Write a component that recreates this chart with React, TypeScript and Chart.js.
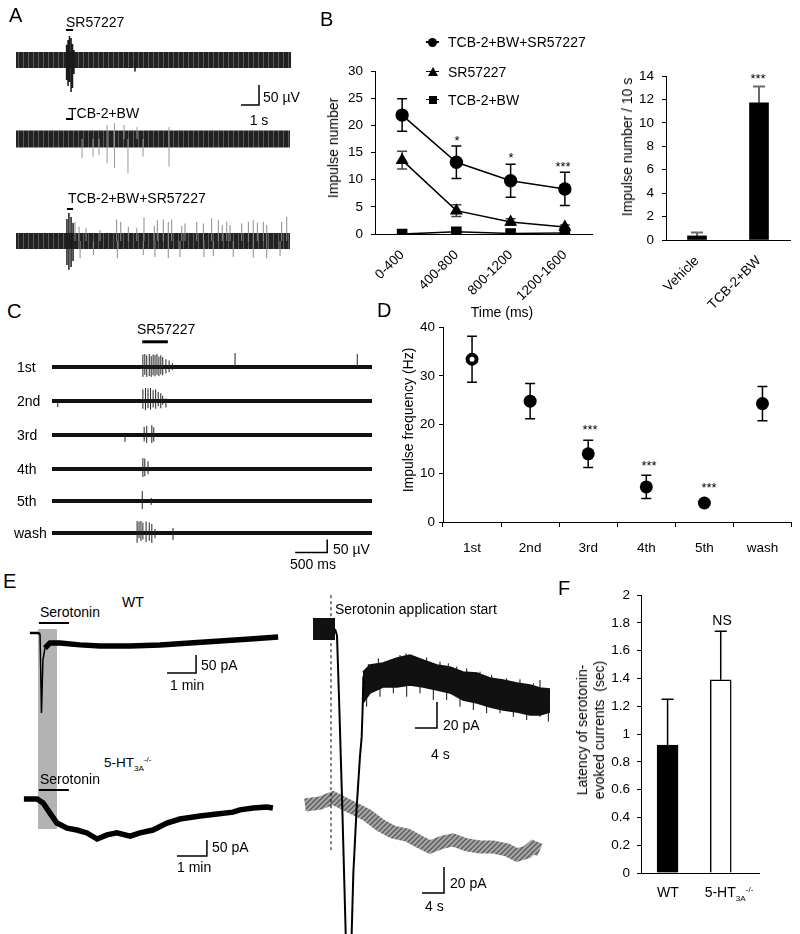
import React, { useEffect, useRef } from 'react';
import { Chart, registerables } from 'chart.js';

Chart.register(...registerables);

const FONT = '"Liberation Sans", Arial, Helvetica, sans-serif';
Chart.defaults.font.family = FONT;
Chart.defaults.color = '#000';

// ======================= DATA =======================
// ---- Panel A : extracellular traces (time in s, voltage in µV) ----
const aTraceSpan = [0, 15.28];
const a1Burst = [[2.81, -50, 38], [2.89, -65, 50], [2.97, -55, 60], [3.06, -80, 55], [3.14, -70, 40], [3.22, -35, 25], [6.61, -29, 0]];
const a2Spikes = [[3.67, -48, 0], [4.28, -44, 0], [4.61, -40, 0], [5.06, -61, 35], [5.47, -73, 40], [6.0, 0, 35], [6.22, -86, 0], [6.72, 0, 30], [7.06, -44, 0], [8.5, -69, 30]];
const a3Burst = [[2.83, -60, 55], [2.94, -72, 70], [3.06, -65, 60], [3.17, -50, 45]];
const a3Spikes = [
  [3.28, 0, 48], [3.5, 0, 36], [3.56, -43, 0], [3.89, 0, 32], [4.3, -35, 0], [4.67, 0, 27.5], [5.59, 0, 54], [5.63, -43, 0],
  [5.82, 0, 48], [6.24, 0, 36], [6.71, 0, 32], [7.07, -35, 0], [7.11, 0, 59], [7.68, 0, 37.5], [7.72, -40, 0], [7.85, 0, 52],
  [8.18, 0, 54], [8.46, -43, 48], [8.65, 0, 54], [9.11, -40, 0], [9.21, 0, 37.5], [9.39, 0, 44], [10.04, 0, 48], [10.41, 0, 44],
  [10.44, -40, 0], [10.87, 0, 57], [10.96, -38, 0], [11.24, 0, 52], [11.46, 0, 40], [11.71, 0, 48], [11.89, 0, 40], [12.07, -40, 0],
  [12.54, 0, 44], [12.91, 0, 48], [13.18, -42, 52], [13.41, 0, 46], [13.74, 0, 48], [13.93, -43, 40], [14.67, -38, 0], [14.76, 0, 48],
  [15.04, 0, 61],
];
const a1Application = [[2.78, 75], [3.17, 75]];
const a2Application = [[2.78, 50], [3.17, 50]];
const a3Application = [[2.83, 80], [3.17, 80]];
const aScaleBar = [[12.5, -112.5], [13.5, -112.5], [13.5, -62.5]]; // 1 s, 50 µV

// ---- Panel B : impulse number per 400 ms bin ----
const bBins = ['0-400', '400-800', '800-1200', '1200-1600'];
const bComboMean = [21.9, 13.2, 9.8, 8.3];
const bComboSem = [3.0, 3.0, 3.05, 3.05];
const bSrMean = [13.6, 4.3, 2.2, 1.3];
const bSrSem = [1.65, 1.1, 0.6, 0.35];
const bTcbMean = [0, 0.4, 0.1, 0.2];
const bTcbSem = [0, 0, 0, 0];
const bGroups = ['Vehicle', 'TCB-2+BW'];
const bPer10s = [0.35, 11.7];
const bPer10sSem = [0.3, 1.4];

// ---- Panel C : repeated SR57227 applications (time in s, µV) ----
const cTraceSpan = [0, 5];
const cApplication = [[1.41, 97], [1.81, 97]];
const c1stSpikes = [[1.42, -38, 48], [1.45, -30, 50], [1.48, -38, 45], [1.52, -35, 50], [1.55, -38, 42], [1.58, -32, 48], [1.61, -36, 46], [1.64, -30, 50], [1.67, -35, 40], [1.7, -28, 45], [1.73, -32, 38], [1.78, -25, 30], [1.83, -20, 25], [1.88, -12, 15], [2.86, 0, 54], [4.77, 0, 50]];
const c2ndSpikes = [[0.09, -23, 0], [1.42, -30, 45], [1.46, -35, 50], [1.5, -28, 48], [1.54, -33, 50], [1.58, -25, 42], [1.62, -30, 45], [1.66, -20, 35], [1.7, -28, 30], [1.73, -15, 20], [1.78, -25, 10]];
const c3rdSpikes = [[1.14, -27, 0], [1.44, -25, 31], [1.48, -31, 35], [1.56, -31, 38], [1.59, -25, 30]];
const c4thSpikes = [[1.42, -31, 42], [1.45, -28, 40], [1.5, -20, 30]];
const c5thSpikes = [[1.41, -31, 38], [1.55, -15, 12]];
const cWashSpikes = [[1.33, -38, 46], [1.36, -20, 44], [1.39, -30, 46], [1.42, -25, 40], [1.47, -35, 44], [1.52, -30, 40], [1.56, -38, 35], [1.61, -20, 15], [1.89, -27, 19]];
const cScaleBar = [[3.8, -75], [4.3, -75], [4.3, -25]]; // 500 ms, 50 µV

// ---- Panel D : impulse frequency per application ----
const dTrials = ['1st', '2nd', '3rd', '4th', '5th', 'wash'];
const dFreq = [33.4, 24.8, 14.0, 7.2, 3.9, 24.3];
const dFreqSem = [4.7, 3.6, 2.8, 2.4, 0, 3.5];

// ---- Panel E left : whole-cell currents (time in min, current in pA) ----
const wtBaseline = [[-0.28, 0], [0, 0], [0.07, -3]];
const wtTransient = [[0.07, -3], [0.12, -222], [0.17, -75], [0.24, -42]];
const wtSustained = [[0.24, -42], [0.41, -28], [0.76, -28], [1.45, -33], [2.14, -36], [3.17, -36], [4.21, -33], [5.24, -28], [6.28, -22], [7.31, -17], [8.28, -11]];
const wtApplication = [[0.03, 27.8], [1.07, 27.8]];
const wtScaleBar = [[4.45, -111], [5.45, -111], [5.45, -61]]; // 1 min, 50 pA
const koTrace = [[-0.47, 0], [-0.03, 0], [0.17, -12.5], [0.4, -44], [0.63, -75], [0.97, -91], [1.3, -97], [1.63, -106], [1.97, -125], [2.3, -112], [2.63, -106], [3.07, -116], [3.4, -106], [3.83, -97], [4.3, -75], [4.73, -62.5], [5.4, -53], [5.97, -47], [6.5, -41], [6.73, -34], [7.17, -28], [7.63, -25], [7.83, -28]];
const koApplication = [[0.03, 28.1], [1.03, 28.1]];
const koScaleBar = [[4.63, -178], [5.63, -178], [5.63, -128]]; // 1 min, 50 pA

// ---- Panel E right : expanded time (time in s, current in pA) ----
const wtFastPre = [[-3.27, 0], [0.73, 0]];
const wtFastTransient = [[0.73, 0], [1.09, -5], [1.51, -60], [2.05, -137], [2.67, -234], [3.2, -316], [3.76, -234], [4.06, -188], [4.67, -137], [5.27, -98], [5.58, -83], [5.76, -60], [5.87, -39], [6.2, -42]];
const wtFastUpper = [[5.82, -33.1], [7.09, -27.7], [9.45, -26.2], [12.0, -22.3], [14.36, -20], [16.73, -23.8], [19.27, -27.7], [21.64, -29.2], [24.0, -33.1], [26.55, -33.8], [28.91, -37.7], [31.27, -39.2], [33.82, -41.5], [36.18, -43.1], [38.0, -45.4], [39.82, -46.2]];
const wtFastLower = [[5.82, -56.9], [7.09, -49.2], [9.45, -44.6], [12.0, -44.6], [14.36, -43.1], [16.73, -44.6], [19.27, -46.9], [21.64, -49.2], [24.0, -54.6], [26.55, -56.9], [28.91, -60], [31.27, -62.3], [33.82, -63.8], [36.18, -66.2], [38.0, -66.2], [39.82, -63.8]];
const wtFastNoise = [
  [6.79, -32, -26.9], [8.61, -30, -22.6], [10.61, -30, -23.8], [12.55, -26, -20], [13.64, -25, -18.7], [15.27, -26, -21.3], [17.39, -27, -21.8],
  [19.82, -30, -25.1], [21.33, -31, -26.4], [22.85, -34, -29], [24.67, -36, -30.3], [27.09, -38, -32.8], [29.21, -41, -35.4], [31.94, -43, -37.9],
  [34.36, -45, -38.7], [36.79, -47, -41.8], [38.0, -48, -39.2],
  [6.48, -59.8, -50], [8.91, -52.1, -44], [11.33, -49.5, -42], [13.76, -52.1, -42], [16.18, -49.5, -43], [18.6, -54.6, -45], [21.03, -54.6, -48],
  [23.45, -59.8, -52], [25.88, -62.3, -55], [28.3, -64.8, -58], [30.73, -64.8, -60], [33.15, -67.5, -62], [35.58, -70, -64], [38.0, -67.5, -64], [39.52, -71.3, -62],
];
const applicationStart = [[0, 26], [0, -170]];
const wtFastScaleBar = [[15.27, -76.2], [19.27, -76.2], [19.27, -56.2]]; // 4 s, 20 pA
const koFastTrace = [[-4.73, 0], [-2.0, 1.5], [0.36, 5.4], [2.18, 1.5], [4.0, -2.3], [6.55, -7.7], [8.91, -15.4], [11.27, -20.8], [13.82, -23.1], [16.18, -28.5], [18.0, -32.3], [20.36, -28.5], [22.18, -26.9], [24.73, -30.8], [27.09, -32.3], [29.45, -32.3], [32.0, -34.6], [33.82, -38.5], [35.64, -36.2], [36.73, -32.3], [38.0, -34.6]];
const koFastScaleBar = [[16.55, -67.7], [20.55, -67.7], [20.55, -47.7]]; // 4 s, 20 pA

// ---- Panel F : latency ----
const fGenotypes = ['WT', '5-HT3A-/-'];
const fLatency = [0.92, 1.39];
const fLatencySem = [0.33, 0.35];

// ======================= HELPERS =======================
type P = { x: number; y: number | null };
const pts = (a: number[][]): P[] => a.map(([x, y]) => ({ x, y }));
const spikes = (a: number[][]): P[] =>
  a.flatMap(([t, lo, hi]) => [{ x: t, y: lo }, { x: t, y: hi }, { x: t, y: null }]);

type Ln = { pts: P[]; color: any; width: number; dash?: number[]; fill?: any; bg?: any };

const baseOpts = {
  responsive: false,
  animation: false as const,
  devicePixelRatio: 1,
  events: [] as any[],
  plugins: { legend: { display: false }, tooltip: { enabled: false } },
};

function traceConfig(w: number, h: number, x0: number, pxX: number, y0: number, pxY: number, lines: Ln[]) {
  return {
    type: 'line',
    data: {
      datasets: lines.map((l, i) => ({
        data: l.pts,
        borderColor: l.color,
        borderWidth: l.width,
        borderDash: l.dash || [],
        fill: l.fill ?? false,
        backgroundColor: l.bg ?? 'rgba(0,0,0,0)',
        pointRadius: 0,
        tension: 0,
        spanGaps: false,
        borderCapStyle: 'butt',
        order: -i,
      })),
    },
    options: {
      ...baseOpts,
      layout: { padding: 0 },
      scales: {
        x: { type: 'linear', display: false, min: -x0 / pxX, max: (w - x0) / pxX },
        y: { type: 'linear', display: false, min: -(h - y0) / pxY, max: y0 / pxY },
      },
    },
  };
}

const errorBarPlugin = {
  id: 'errorBars',
  beforeDatasetsDraw(chart: any) {
    const { ctx } = chart;
    chart.data.datasets.forEach((ds: any, i: number) => {
      const eb = ds.errorBars;
      if (!eb) return;
      const meta = chart.getDatasetMeta(i);
      const ys = chart.scales[meta.yAxisID];
      ctx.save();
      ctx.strokeStyle = eb.color;
      ctx.lineWidth = eb.width;
      meta.data.forEach((el: any, j: number) => {
        const e = eb.values[j];
        if (!e) return;
        const raw = ds.data[j];
        const v = typeof raw === 'number' ? raw : raw.y;
        const x = el.x;
        const yTop = ys.getPixelForValue(v + e);
        const yBot = ys.getPixelForValue(eb.upOnly ? v : v - e);
        ctx.beginPath();
        ctx.moveTo(x, yTop);
        ctx.lineTo(x, yBot);
        ctx.moveTo(x - eb.cap, yTop);
        ctx.lineTo(x + eb.cap, yTop);
        if (!eb.upOnly) {
          ctx.moveTo(x - eb.cap, yBot);
          ctx.lineTo(x + eb.cap, yBot);
        }
        ctx.stroke();
      });
      ctx.restore();
    });
  },
};

function hatch(): any {
  const c = document.createElement('canvas');
  c.width = 5;
  c.height = 5;
  const g = c.getContext('2d');
  if (!g) return '#8c8c8c';
  g.fillStyle = '#a8a8a8';
  g.fillRect(0, 0, 5, 5);
  g.strokeStyle = '#5e5e5e';
  g.lineWidth = 1.5;
  g.beginPath();
  g.moveTo(-1, 6); g.lineTo(6, -1);
  g.moveTo(-1, 1); g.lineTo(1, -1);
  g.moveTo(4, 6); g.lineTo(6, 4);
  g.stroke();
  return g.createPattern(c, 'repeat') || '#8c8c8c';
}

// texture of the dense spontaneous firing band in panel A (vertical striations)
function stripes(): any {
  const c = document.createElement('canvas');
  c.width = 5;
  c.height = 4;
  const g = c.getContext('2d');
  if (!g) return '#262626';
  g.fillStyle = '#222';
  g.fillRect(0, 0, 5, 4);
  g.fillStyle = '#5a5a5a';
  g.fillRect(2, 0, 1, 4);
  return g.createPattern(c, 'repeat') || '#262626';
}

const tickFont = { size: 13.5, family: FONT };
const axisBorder = { display: true, color: '#000', width: 1 };
const yGrid = { display: true, drawOnChartArea: false, drawTicks: true, tickLength: 4, color: '#000' };

// ======================= CHART CONFIGS =======================
function bLineConfig() {
  const common = { borderColor: '#000', borderWidth: 1.5, pointBackgroundColor: '#000', pointBorderColor: '#000', pointBorderWidth: 0 };
  return {
    type: 'line',
    data: {
      labels: bBins,
      datasets: [
        { ...common, label: 'TCB-2+BW+SR57227', data: bComboMean, pointStyle: 'circle', pointRadius: 6.7, errorBars: { values: bComboSem, color: '#000', width: 1.5, cap: 5 } },
        { ...common, label: 'SR57227', data: bSrMean, pointStyle: 'triangle', pointRadius: 7.5, errorBars: { values: bSrSem, color: '#444', width: 1.5, cap: 5 } },
        { ...common, label: 'TCB-2+BW', data: bTcbMean, pointStyle: 'rect', pointRadius: 7.5, errorBars: { values: bTcbSem, color: '#444', width: 1.5, cap: 5 } },
      ],
    },
    options: {
      ...baseOpts,
      layout: { padding: { left: 0, right: 8, top: 12, bottom: 0 } },
      scales: {
        x: {
          offset: true, grid: { display: false }, border: axisBorder,
          ticks: { font: tickFont, color: '#000', minRotation: 45, maxRotation: 45, autoSkip: false, padding: 5 },
          afterFit: (s: any) => { s.height = 66; },
        },
        y: {
          min: 0, max: 30, border: axisBorder, grid: yGrid,
          ticks: { font: tickFont, color: '#000', stepSize: 5, padding: 8 },
          afterFit: (s: any) => { s.width = 75; },
        },
      },
    },
    plugins: [errorBarPlugin],
  };
}

function bBarConfig() {
  return {
    type: 'bar',
    data: {
      labels: bGroups,
      datasets: [{ data: bPer10s, backgroundColor: '#000', barThickness: 19, errorBars: { values: bPer10sSem, color: '#6a6a6a', width: 2, cap: 6, upOnly: true } }],
    },
    options: {
      ...baseOpts,
      layout: { padding: { left: 0, right: 10, top: 21, bottom: 0 } },
      scales: {
        x: {
          grid: { display: false }, border: axisBorder,
          ticks: { font: tickFont, color: '#000', minRotation: 45, maxRotation: 45, autoSkip: false, padding: 5 },
          afterFit: (s: any) => { s.height = 78; },
        },
        y: {
          min: 0, max: 14, border: axisBorder, grid: yGrid,
          ticks: { font: tickFont, color: '#000', stepSize: 2, padding: 8 },
          afterFit: (s: any) => { s.width = 66; },
        },
      },
    },
    plugins: [errorBarPlugin],
  };
}

function dConfig() {
  return {
    type: 'line',
    data: {
      labels: dTrials,
      datasets: [{
        data: dFreq, showLine: false, pointStyle: 'circle',
        pointRadius: dFreq.map((_, i) => (i === 0 ? 4.5 : 6.5)),
        pointBorderWidth: dFreq.map((_, i) => (i === 0 ? 4 : 0)),
        pointBackgroundColor: dFreq.map((_, i) => (i === 0 ? '#fff' : '#000')),
        pointBorderColor: '#000',
        errorBars: { values: dFreqSem, color: '#000', width: 1.5, cap: 5 },
      }],
    },
    options: {
      ...baseOpts,
      layout: { padding: { left: 0, right: 8, top: 12, bottom: 0 } },
      scales: {
        x: {
          offset: true, border: axisBorder,
          grid: { display: true, offset: true, drawOnChartArea: false, drawTicks: true, tickLength: 5, color: '#000' },
          ticks: { font: tickFont, color: '#000', maxRotation: 0, autoSkip: false, padding: 13 },
          afterFit: (s: any) => { s.height = 38; },
        },
        y: {
          min: 0, max: 40, border: axisBorder, grid: yGrid,
          ticks: { font: tickFont, color: '#000', stepSize: 10, padding: 4 },
          afterFit: (s: any) => { s.width = 63; },
        },
      },
    },
    plugins: [errorBarPlugin],
  };
}

function fConfig() {
  return {
    type: 'bar',
    data: {
      datasets: [{
        data: fLatency.map((v, i) => ({ x: i, y: v })),
        backgroundColor: ['#000', '#fff'], borderColor: '#000', borderWidth: 1.5, barThickness: 21,
        errorBars: { values: fLatencySem, color: '#000', width: 1.5, cap: 6, upOnly: true },
      }],
    },
    options: {
      ...baseOpts,
      layout: { padding: { left: 0, right: 41, top: 14, bottom: 0 } },
      scales: {
        x: {
          type: 'linear', min: -0.5, max: 1.72, offset: false, border: axisBorder,
          grid: { display: false }, ticks: { display: false },
          afterFit: (s: any) => { s.height = 27; },
        },
        y: {
          min: 0, max: 2, border: axisBorder, grid: yGrid,
          ticks: { font: tickFont, color: '#000', stepSize: 0.2, padding: 7, callback: (v: any) => String(Math.round(Number(v) * 10) / 10) },
          afterFit: (s: any) => { s.width = 56; },
        },
      },
    },
    plugins: [errorBarPlugin],
  };
}

// ======================= COMPONENTS =======================
function ChartCanvas({ left, top, width, height, make }: { left: number; top: number; width: number; height: number; make: () => any }) {
  const ref = useRef<HTMLCanvasElement>(null);
  useEffect(() => {
    if (!ref.current) return;
    const chart = new Chart(ref.current, make());
    return () => chart.destroy();
  }, []);
  return <canvas ref={ref} width={width} height={height} style={{ position: 'absolute', left, top, width, height }} />;
}

function Trace({ left, top, width, height, x0, pxX, y0, pxY, lines }: { left: number; top: number; width: number; height: number; x0: number; pxX: number; y0: number; pxY: number; lines: () => Ln[] }) {
  return <ChartCanvas left={left} top={top} width={width} height={height} make={() => traceConfig(width, height, x0, pxX, y0, pxY, lines())} />;
}

function T({ x, y, children, size = 14, align = 'left', rotate = false, style = {} }: any) {
  const tx = align === 'left' ? '0' : align === 'center' ? '-50%' : '-100%';
  return (
    <div style={{
      position: 'absolute', left: x, top: y, transform: `translate(${rotate ? '-50%' : tx}, -50%)${rotate ? ' rotate(-90deg)' : ''}`,
      fontSize: size, lineHeight: 1, whiteSpace: 'nowrap', fontFamily: FONT, color: '#000', ...style,
    }}>{children}</div>
  );
}

const KO = ({ size = 13.5 }: { size?: number }) => (
  <span>5-HT<span style={{ fontSize: size * 0.6, position: 'relative', top: size * 0.3 }}>3A</span><span style={{ fontSize: size * 0.6, position: 'relative', top: -size * 0.38 }}>-/-</span></span>
);

const black = '#000';
const cRows = [
  { label: dTrials[0], center: 367, top: 335, h: 49, spikes: c1stSpikes },
  { label: dTrials[1], center: 401, top: 384, h: 34, spikes: c2ndSpikes },
  { label: dTrials[2], center: 435, top: 418, h: 34, spikes: c3rdSpikes },
  { label: dTrials[3], center: 469, top: 452, h: 34, spikes: c4thSpikes },
  { label: dTrials[4], center: 501, top: 484, h: 32, spikes: c5thSpikes },
  { label: dTrials[5], center: 533, top: 516, h: 44, spikes: cWashSpikes },
];

function LegendItem({ y, kind, text }: { y: number; kind: string; text: string }) {
  let marker: any = null;
  if (kind === 'circle') marker = <div style={{ position: 'absolute', left: 428, top: y - 4.5, width: 9, height: 9, borderRadius: '50%', background: black }} />;
  if (kind === 'tri') marker = <div style={{ position: 'absolute', left: 427.5, top: y - 5, width: 0, height: 0, borderLeft: '5px solid transparent', borderRight: '5px solid transparent', borderBottom: '9px solid #000' }} />;
  if (kind === 'rect') marker = <div style={{ position: 'absolute', left: 428.5, top: y - 4, width: 8, height: 8, background: black }} />;
  return (
    <>
      <div style={{ position: 'absolute', left: 426, top: y - 0.75, width: 13, height: 1.5, background: black }} />
      {marker}
      <T x={448} y={y}>{text}</T>
    </>
  );
}

export default function App() {
  return (
    <div style={{ position: 'absolute', left: 0, top: 0, width: 800, height: 934, background: '#fff', overflow: 'hidden', fontFamily: FONT }}>
      {/* serotonin application shading (panel E left) */}
      <div style={{ position: 'absolute', left: 38, top: 629, width: 19, height: 200, background: '#b3b3b3' }} />

      {/* ---------- Panel A ---------- */}
      <Trace left={16} top={25} width={280} height={85} x0={0} pxX={18} y0={35} pxY={0.4} lines={() => [
        { pts: pts([[aTraceSpan[0], 0], [aTraceSpan[1], 0]]), color: stripes(), width: 16 },
        { pts: spikes(a1Burst), color: '#1a1a1a', width: 1.5 },
        { pts: pts(a1Application), color: black, width: 2 },
        { pts: pts(aScaleBar), color: black, width: 1.5 },
      ]} />
      <Trace left={16} top={110} width={280} height={70} x0={0} pxX={18} y0={29} pxY={0.4} lines={() => [
        { pts: pts([[aTraceSpan[0], 0], [aTraceSpan[1] - 0.06, 0]]), color: stripes(), width: 17 },
        { pts: spikes(a2Spikes), color: '#9a9a9a', width: 1 },
        { pts: pts(a2Application), color: black, width: 2 },
      ]} />
      <Trace left={16} top={180} width={280} height={90} x0={0} pxX={18} y0={61} pxY={0.4} lines={() => [
        { pts: pts([[aTraceSpan[0], 0], [aTraceSpan[1] - 0.06, 0]]), color: stripes(), width: 16 },
        { pts: spikes(a3Spikes), color: '#8a8a8a', width: 1 },
        { pts: spikes(a3Burst), color: '#1a1a1a', width: 1.5 },
        { pts: pts(a3Application), color: black, width: 2 },
      ]} />

      {/* ---------- Panel B ---------- */}
      <ChartCanvas left={300} top={55} width={300} height={245} make={bLineConfig} />
      <ChartCanvas left={600} top={55} width={200} height={263} make={bBarConfig} />

      {/* ---------- Panel C ---------- */}
      {cRows.map((r, i) => (
        <Trace key={r.label} left={52} top={r.top} width={320} height={r.h} x0={0} pxX={64} y0={r.center - r.top} pxY={0.26} lines={() => {
          const ls: Ln[] = [
            { pts: pts([[cTraceSpan[0], 0], [cTraceSpan[1], 0]]), color: '#111', width: 4 },
            { pts: spikes(r.spikes), color: '#222', width: 1 },
          ];
          if (i === 0) ls.push({ pts: pts(cApplication), color: black, width: 3 });
          if (i === cRows.length - 1) ls.push({ pts: pts(cScaleBar), color: black, width: 1.5 });
          return ls;
        }} />
      ))}

      {/* ---------- Panel D ---------- */}
      <ChartCanvas left={380} top={315} width={420} height={245} make={dConfig} />

      {/* ---------- Panel E left ---------- */}
      <Trace left={20} top={620} width={265} height={100} x0={18} pxX={29} y0={13} pxY={0.36} lines={() => [
        { pts: pts(wtBaseline), color: black, width: 2.5 },
        { pts: pts(wtTransient), color: black, width: 1.5 },
        { pts: pts(wtSustained), color: black, width: 5.5 },
        { pts: pts(wtApplication), color: black, width: 2 },
        { pts: pts(wtScaleBar), color: black, width: 1.5 },
      ]} />
      <Trace left={20} top={785} width={265} height={80} x0={18} pxX={30} y0={14} pxY={0.32} lines={() => [
        { pts: pts(koTrace), color: black, width: 5.5 },
        { pts: pts(koApplication), color: black, width: 2 },
        { pts: pts(koScaleBar), color: black, width: 1.5 },
      ]} />

      {/* ---------- Panel E right ---------- */}
      <Trace left={300} top={780} width={260} height={130} x0={31} pxX={5.5} y0={25} pxY={1.3} lines={() => [
        { pts: pts(koFastTrace), color: hatch(), width: 13 },
        { pts: pts(koFastScaleBar), color: black, width: 1.5 },
      ]} />
      <Trace left={300} top={595} width={260} height={339} x0={31} pxX={5.5} y0={34} pxY={1.3} lines={() => [
        { pts: pts(applicationStart), color: '#000', width: 1, dash: [3, 3] },
        { pts: pts(wtFastPre), color: '#111', width: 22 },
        { pts: pts(wtFastUpper), color: '#111', width: 1.5 },
        { pts: pts(wtFastLower), color: '#111', width: 1.5, fill: '-1', bg: '#111' },
        { pts: spikes(wtFastNoise), color: '#111', width: 1 },
        { pts: pts(wtFastTransient), color: black, width: 2 },
        { pts: pts(wtFastScaleBar), color: black, width: 1.5 },
      ]} />

      {/* ---------- Panel F ---------- */}
      <ChartCanvas left={585} top={580} width={215} height={320} make={fConfig} />

      {/* ======== TEXT ======== */}
      <T x={9} y={15} size={20}>A</T>
      <T x={66} y={22}>SR57227</T>
      <T x={68} y={113}>TCB-2+BW</T>
      <T x={68} y={197.5}>TCB-2+BW+SR57227</T>
      <T x={263} y={97}>50 µV</T>
      <T x={259} y={120} align="center">1 s</T>

      <T x={320} y={18.5} size={20}>B</T>
      <LegendItem y={42} kind="circle" text="TCB-2+BW+SR57227" />
      <LegendItem y={71.5} kind="tri" text="SR57227" />
      <LegendItem y={99.5} kind="rect" text="TCB-2+BW" />
      <T x={333} y={148} rotate>Impulse number</T>
      <T x={502} y={312} align="center">Time (ms)</T>
      <T x={457} y={140} size={13} align="center">*</T>
      <T x={511} y={157} size={13} align="center">*</T>
      <T x={563} y={166} size={13} align="center">***</T>
      <T x={627} y={147} rotate>Impulse number / 10 s</T>
      <T x={758} y={78} size={13} align="center">***</T>

      <T x={7} y={311} size={20}>C</T>
      <T x={137} y={329}>SR57227</T>
      {cRows.map((r) => (
        <T key={r.label} x={r.label === 'wash' ? 14 : 17} y={r.center}>{r.label}</T>
      ))}
      <T x={333} y={549}>50 µV</T>
      <T x={313} y={564} align="center">500 ms</T>

      <T x={377} y={310} size={20}>D</T>
      <T x={408} y={420} rotate>Impulse frequency (Hz)</T>
      <T x={590} y={428.5} size={13} align="center">***</T>
      <T x={649} y={465} size={13} align="center">***</T>
      <T x={709} y={487} size={13} align="center">***</T>

      <T x={3} y={581} size={20}>E</T>
      <T x={122} y={602}>WT</T>
      <T x={40} y={612}>Serotonin</T>
      <T x={201} y={665}>50 pA</T>
      <T x={170} y={685}>1 min</T>
      <T x={104} y={763} size={13.5}><KO /></T>
      <T x={40} y={779}>Serotonin</T>
      <T x={212} y={847}>50 pA</T>
      <T x={177} y={867}>1 min</T>
      <T x={335} y={609}>Serotonin application start</T>
      <T x={443} y={725}>20 pA</T>
      <T x={431} y={754}>4 s</T>
      <T x={450} y={883}>20 pA</T>
      <T x={425} y={906}>4 s</T>

      <T x={558} y={588} size={20}>F</T>
      <T x={591} y={730} rotate style={{ textAlign: 'center', lineHeight: '17px' }}>Latency of serotonin-<br />evoked currents&nbsp; (sec)</T>
      <T x={722} y={620} align="center">NS</T>
      <T x={668} y={892} align="center">{fGenotypes[0]}</T>
      <T x={729} y={892} align="center"><KO /></T>
    </div>
  );
}
